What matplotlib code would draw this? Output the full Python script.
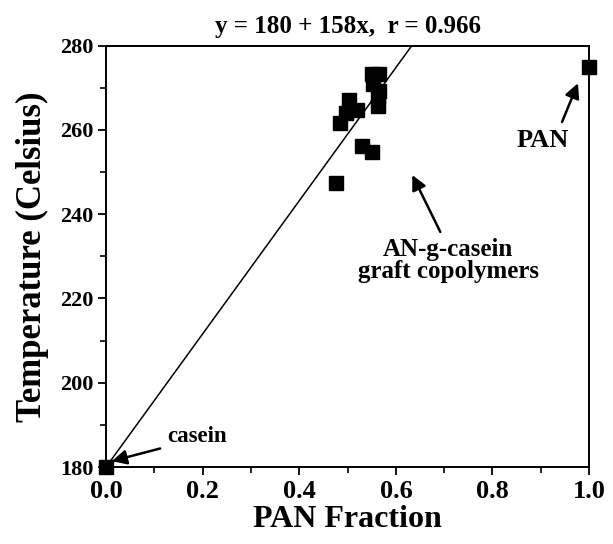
import numpy as np
import matplotlib.pyplot as plt
from matplotlib.ticker import MultipleLocator

plt.rcParams['font.family'] = ['Liberation Serif', 'DejaVu Serif']
plt.rcParams['font.weight'] = 'bold'

# data
pan_fraction = [0.0, 1.0, 0.477, 0.529, 0.550, 0.485, 0.502, 0.496, 0.519,
                0.550, 0.566, 0.552, 0.566, 0.562, 0.562]
temperature = [180, 275, 247.4, 256.2, 254.8, 261.7, 267.0, 264.0, 264.8,
               273.3, 273.3, 271.0, 269.3, 267.9, 265.7]
fit_a, fit_b = 180, 158
fit_r = 0.966

x_ticks = [0.0, 0.2, 0.4, 0.6, 0.8, 1.0]
y_ticks = [180, 200, 220, 240, 260, 280]

fig = plt.figure(figsize=(6.13, 5.44), dpi=100)
ax = fig.add_axes([0.173, 0.1415, 0.788, 0.7745])

xf = np.linspace(0, 1, 200)
ax.plot(xf, fit_a + fit_b * xf, color='black', lw=1.1)
ax.plot(pan_fraction, temperature, 's', color='black', ms=10.5, clip_on=False, zorder=3)

ax.set_xlim(0, 1.0)
ax.set_ylim(180, 280)
ax.set_xticks(x_ticks)
ax.set_xticklabels(['%.1f' % v for v in x_ticks], fontsize=19)
ax.set_yticks(y_ticks)
ax.set_yticklabels([str(v) for v in y_ticks], fontsize=16)
ax.xaxis.set_minor_locator(MultipleLocator(0.1))
ax.yaxis.set_minor_locator(MultipleLocator(10))
ax.tick_params(which='major', direction='out', length=6, width=1.3, pad=3)
ax.tick_params(which='minor', direction='out', length=4, width=1.2)
ax.tick_params(top=False, right=False, which='both')
for s in ax.spines.values():
    s.set_linewidth(1.4)

ax.set_xlabel('PAN Fraction', fontsize=23, fontweight='bold', labelpad=2)
ax.set_ylabel('Temperature (Celsius)', fontsize=25, fontweight='bold', labelpad=8)
ax.set_title('y = %d + %dx,  r = %.3f' % (fit_a, fit_b, fit_r), fontsize=18,
             fontweight='bold', pad=9)

arrow = dict(arrowstyle='-|>', color='black', lw=1.8, mutation_scale=22,
             shrinkA=0, shrinkB=0)
ax.annotate('', xy=(0.012, 181.4), xytext=(0.112, 184.4), arrowprops=arrow)
ax.text(0.188, 187.3, 'casein', fontsize=16.5, ha='center', va='center')
ax.annotate('', xy=(0.977, 271.1), xytext=(0.944, 261.9), arrowprops=arrow)
ax.text(0.905, 257.4, 'PAN', fontsize=19, ha='center', va='center')
ax.annotate('', xy=(0.634, 249.3), xytext=(0.692, 235.8), arrowprops=arrow)
ax.text(0.708, 229.1, 'AN-g-casein\ngraft copolymers', fontsize=18,
        ha='center', va='center', linespacing=0.95)

fig.savefig('out.png', dpi=100)
